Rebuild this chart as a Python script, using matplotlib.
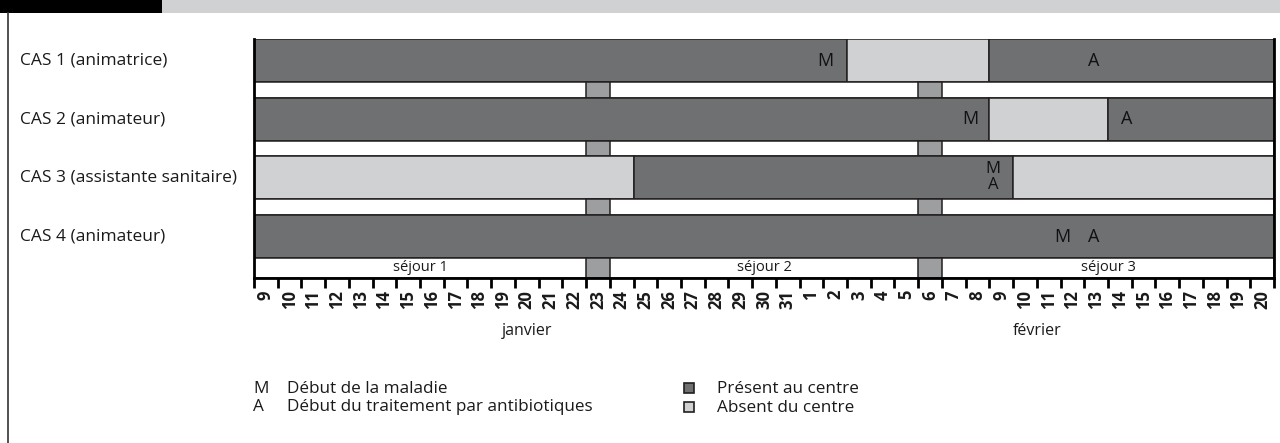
import matplotlib
matplotlib.use("Agg")
import matplotlib.pyplot as plt
from matplotlib.patches import Rectangle
from matplotlib.transforms import blended_transform_factory

plt.rcParams['font.family'] = ['Open Sans', 'DejaVu Sans']

# day labels: 9 janvier -> 20 fevrier (index 0 = 9 janvier)
jan_days = list(range(9, 32))
feb_days = list(range(1, 21))
day_labels = [str(d) for d in jan_days + feb_days]
months = ['janvier', 'février']

cases = ['CAS 1 (animatrice)', 'CAS 2 (animateur)',
         'CAS 3 (assistante sanitaire)', 'CAS 4 (animateur)']
# segments per case: (start index, end index, present?)
case_segments = [
    [(0, 25, True), (25, 31, False), (31, 43, True)],
    [(0, 31, True), (31, 36, False), (36, 43, True)],
    [(0, 16, False), (16, 32, True), (32, 43, False)],
    [(0, 43, True)],
]
# M / A marks: (case, letter, day position)
marks_case = [0, 0, 1, 1, 2, 2, 3, 3]
marks_letter = ['M', 'A', 'M', 'A', 'M', 'A', 'M', 'A']
marks_day = [24.1, 35.4, 30.2, 36.8, 31.15, 31.15, 34.06, 35.4]

sejour_names = ['séjour 1', 'séjour 2', 'séjour 3']
sejour_start = [0, 15, 29]
sejour_end = [14, 28, 43]
gap_days = [14, 28]  # 23 janvier, 6 fevrier

# colours / layout
dark = '#6f7072'
light = '#d0d1d3'
gapc = '#9d9ea0'
edge = '#231f20'
txt = '#1a1a1a'
bar_h = 43.0
strip_h = 15.7
sej_h = 19.5
total_h = 4 * bar_h + 3 * strip_h + sej_h
n_days = len(day_labels)

W, H = 1280, 443
fig = plt.figure(figsize=(W / 100, H / 100), dpi=100)

# decoration layer in pixel units
deco = fig.add_axes([0, 0, 1, 1])
deco.set_xlim(0, W)
deco.set_ylim(H, 0)
deco.axis('off')
deco.add_patch(Rectangle((0, 0), 162, 12.5, color='black', lw=0))
deco.add_patch(Rectangle((162, 0), W - 162, 12.5, color=light, lw=0))
deco.plot([7.5, 7.5], [12.5, H], color='#333333', lw=1.2)

# legend
lfs = 12.3
deco.text(253, 389, 'M', fontsize=lfs, va='center', color=txt)
deco.text(287, 389, 'Début de la maladie', fontsize=lfs, va='center', color=txt)
deco.text(253, 407, 'A', fontsize=lfs, va='center', color=txt)
deco.text(287, 407, 'Début du traitement par antibiotiques', fontsize=lfs, va='center', color=txt)
for yy, col, lab in [(388, dark, 'Présent au centre'), (407, light, 'Absent du centre')]:
    deco.add_patch(Rectangle((684, yy - 5), 10, 10, facecolor=col, edgecolor=edge, lw=1.2))
    deco.text(717, yy + 1, lab, fontsize=lfs, va='center', color=txt)

# main chart
top_px = 39
ax = fig.add_axes([254 / W, 1 - (top_px + total_h) / H, 1020 / W, total_h / H])
ax.set_xlim(0, n_days)
ax.set_ylim(total_h, 0)

def row_top(i):
    return i * (bar_h + strip_h)

for i, segs in enumerate(case_segments):
    y0 = row_top(i)
    for s, e, pres in segs:
        ax.add_patch(Rectangle((s, y0), e - s, bar_h, facecolor=dark if pres else light,
                               edgecolor=edge, lw=1.1))
    # strip below
    sy = y0 + bar_h
    sh = strip_h if i < 3 else sej_h
    ax.add_patch(Rectangle((0, sy), n_days, sh, facecolor='white', edgecolor=edge, lw=1.1))
    for g in gap_days:
        ax.add_patch(Rectangle((g, sy), 1, sh, facecolor=gapc, edgecolor=edge, lw=1.1))

# sejour labels
sy = row_top(3) + bar_h + sej_h / 2
for name, s, e in zip(sejour_names, sejour_start, sejour_end):
    ax.text((s + e) / 2, sy, name, ha='center', va='center', fontsize=10.5, color=txt)

# M / A marks
for c, l, d in zip(marks_case, marks_letter, marks_day):
    yc = row_top(c) + bar_h / 2
    fs = 13
    if c == 2:
        yc += -9 if l == 'M' else 7
        fs = 12
    ax.text(d, yc, l, ha='center', va='center', fontsize=fs, color='#111111')

# case labels
tr = blended_transform_factory(fig.transFigure, ax.transData)
for i, name in enumerate(cases):
    ax.text(20 / W, row_top(i) + bar_h / 2, name, transform=tr, ha='left',
            va='center', fontsize=12.5, color=txt)

# axes styling
ax.spines['top'].set_visible(False)
for side in ['left', 'right', 'bottom']:
    ax.spines[side].set_linewidth(2)
    ax.spines[side].set_color('black')
ax.set_yticks([])
ax.set_xticks(range(n_days + 1))
ax.set_xticklabels([])
ax.tick_params(axis='x', which='major', length=7.5, width=2, color='black', direction='out')
ax.set_xticks([i + 0.5 for i in range(n_days)], minor=True)
ax.set_xticklabels(day_labels, minor=True, rotation=90, fontsize=12, fontweight='bold',
                   color=txt)
ax.tick_params(axis='x', which='minor', length=0, pad=9)

# month labels
tr2 = blended_transform_factory(ax.transData, fig.transFigure)
ax.text(len(jan_days) / 2, 1 - 331 / H, months[0], transform=tr2, ha='center',
        va='center', fontsize=11.5, color=txt)
ax.text(len(jan_days) + len(feb_days) / 2, 1 - 331 / H, months[1], transform=tr2,
        ha='center', va='center', fontsize=11.5, color=txt)

fig.savefig('out.png', dpi=100)
